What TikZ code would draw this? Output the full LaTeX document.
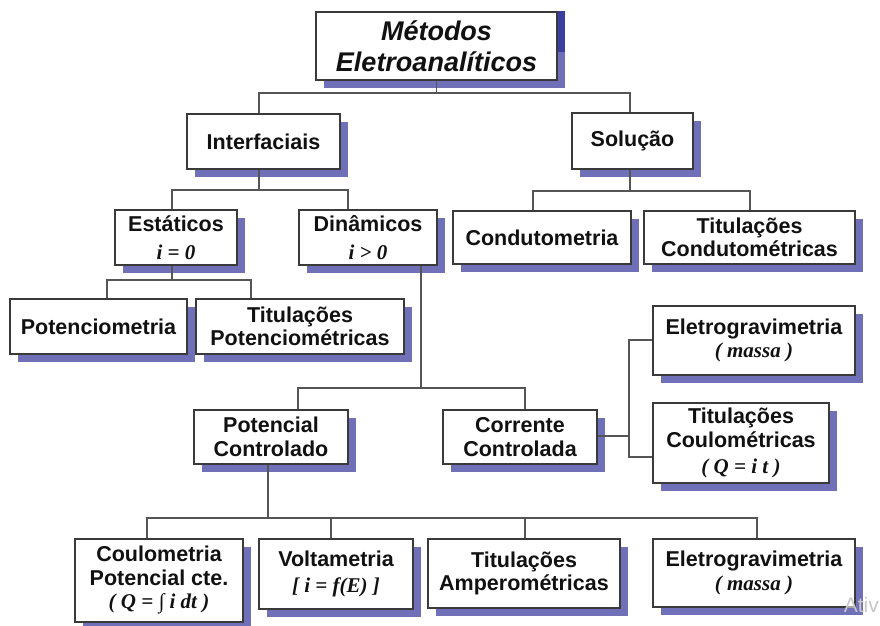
\documentclass[tikz,border=0pt]{standalone}
\usepackage{fontspec}
\setmainfont{Liberation Sans}
\newfontfamily\tmsfont{Liberation Serif}
\usetikzlibrary{shadows}
\definecolor{shad}{HTML}{7070B8}
\definecolor{shaddark}{HTML}{3A3F9E}
\definecolor{edgec}{HTML}{3A3A3A}
\definecolor{wire}{HTML}{555555}
\definecolor{txt}{HTML}{111111}
\newcommand{\mth}[1]{{\tmsfont\bfseries\itshape\fontsize{21}{23}\selectfont #1}}
\begin{document}
\begin{tikzpicture}[x=1pt,y=-1pt,
  box/.style={draw=edgec, line width=1.2pt, fill=white, inner sep=0pt, align=center, text=txt,
    font=\bfseries\fontsize{21.5}{23.5}\selectfont,
    drop shadow={shadow xshift=8pt, shadow yshift=-8pt, fill=shad, opacity=1}},
  conn/.style={draw=wire, line width=1.2pt}]
\useasboundingbox (0,0) rectangle (880,625);
\fill[white] (0,0) rectangle (880,625);

% boxes
\node[box, minimum width=241pt, minimum height=68pt, font=\bfseries\itshape\fontsize{27}{31}\selectfont] (top) at (436.5,46) {Métodos\\Eletroanalíticos};
\fill[shaddark] (557.6,11) rectangle (565,52);
\node[box, minimum width=153pt, minimum height=55pt] (inter) at (263.5,141.5) {Interfaciais};
\node[box, minimum width=121pt, minimum height=56pt] (sol) at (632.5,141) {Solução};
\node[box, minimum width=122pt, minimum height=55pt, text depth=0pt] (est) at (176,237.5) {\raisebox{-2pt}{Estáticos}\\[6pt]\mth{i = 0}};
\node[box, minimum width=138pt, minimum height=55pt] (din) at (368,237.5) {\raisebox{-2pt}{Dinâmicos}\\[6pt]\mth{i > 0}};
\node[box, minimum width=178pt, minimum height=53pt] (cond) at (542,237.5) {Condutometria};
\node[box, minimum width=211pt, minimum height=53pt] (tcond) at (749.5,237.5) {Titulações\\Condutométricas};
\node[box, minimum width=177pt, minimum height=55pt] (pot) at (98.5,326.5) {Potenciometria};
\node[box, minimum width=208pt, minimum height=55pt] (tpot) at (300,326.5) {Titulações\\Potenciométricas};
\node[box, minimum width=202pt, minimum height=69pt] (eg1) at (754,340.5) {Eletrogravimetria\\\mth{( massa )}};
\node[box, minimum width=154pt, minimum height=54pt] (pc) at (271,437) {Potencial\\Controlado};
\node[box, minimum width=154pt, minimum height=54pt] (cc) at (520,437) {Corrente\\Controlada};
\node[box, minimum width=176pt, minimum height=80pt] (tcoul) at (741,443) {Titulações\\Coulométricas\\[3pt]\mth{( Q = i t )}};
\node[box, minimum width=168pt, minimum height=83pt] (coul) at (159,580.5) {Coulometria\\Potencial cte.\\\mth{( Q = ∫ i dt )}};
\node[box, minimum width=154pt, minimum height=70pt] (volt) at (336,574) {\raisebox{-2pt}{Voltametria}\\[4pt]\mth{[ i = f(E) ]}};
\node[box, minimum width=192pt, minimum height=69pt] (tamp) at (524,573.5) {Titulações\\Amperométricas};
\node[box, minimum width=202pt, minimum height=68pt] (eg2) at (754,573) {Eletrogravimetria\\\mth{( massa )}};

% junction coordinates
\coordinate (j1l) at (259,93);  \coordinate (j1r) at (630,93);
\coordinate (j2l) at (172,190); \coordinate (j2r) at (348,190);
\coordinate (j3l) at (533,191); \coordinate (j3r) at (750,191);
\coordinate (j4l) at (107,280); \coordinate (j4r) at (251,280);
\coordinate (j5l) at (298,388); \coordinate (j5r) at (525,388);
\coordinate (j6a) at (147,518); \coordinate (j6b) at (331,518);
\coordinate (j6c) at (525,518); \coordinate (j6d) at (757,518);
\coordinate (j7t) at (629,340); \coordinate (j7b) at (629,457);

% connectors
\draw[conn] (top.south) -- (top.south |- j1l);
\draw[conn] (inter.north -| j1l) -- (j1l) -- (j1r) -- (sol.north -| j1r);
\draw[conn] (inter.south -| j1l) -- (j1l |- j2l);
\draw[conn] (est.north -| j2l) -- (j2l) -- (j2r) -- (din.north -| j2r);
\draw[conn] (sol.south -| j1r) -- (j1r |- j3l);
\draw[conn] (cond.north -| j3l) -- (j3l) -- (j3r) -- (tcond.north -| j3r);
\draw[conn] (est.south -| j2l) -- (j2l |- j4l);
\draw[conn] (pot.north -| j4l) -- (j4l) -- (j4r) -- (tpot.north -| j4r);
\draw[conn] (din.south -| 421,0) -- (421,388);
\draw[conn] (pc.north -| j5l) -- (j5l) -- (j5r) -- (cc.north -| j5r);
\draw[conn] (pc.south -| 268,0) -- (268,518);
\draw[conn] (coul.north -| j6a) -- (j6a) -- (j6d) -- (eg2.north -| j6d);
\draw[conn] (volt.north -| j6b) -- (j6b);
\draw[conn] (tamp.north -| j6c) -- (j6c);
\draw[conn] (cc.east |- 0,436) -- (629,436);
\draw[conn] (eg1.west |- j7t) -- (j7t) -- (j7b) -- (tcoul.west |- j7b);

% watermark fragment
\node[anchor=base east, font=\fontsize{21}{23}\selectfont, text=black!22, inner sep=0pt] (wm) at (879,612) {Ativ};
\end{tikzpicture}
\end{document}
